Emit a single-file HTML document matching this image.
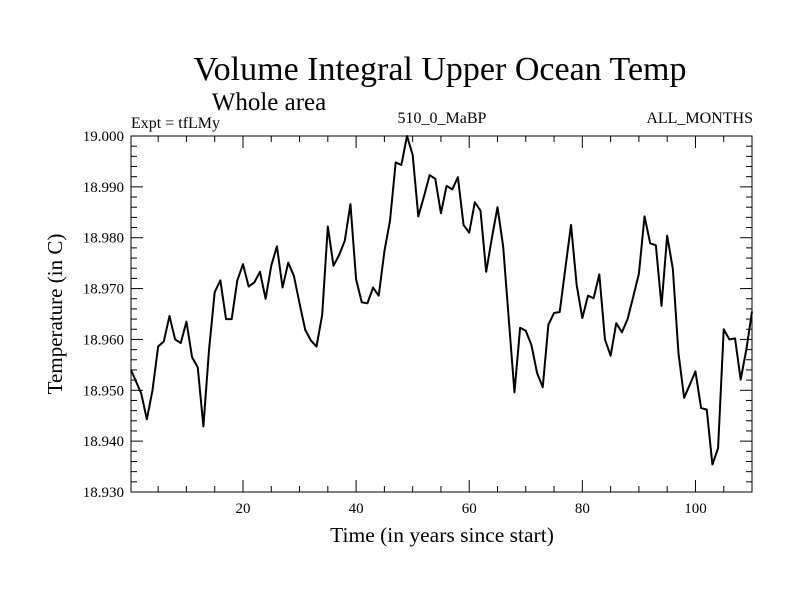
<!DOCTYPE html>
<html><head><meta charset="utf-8"><style>
body{margin:0;background:#fff;}
svg text{font-family:"Liberation Serif",serif;fill:#000;}
</style></head><body>
<svg id="chart" width="800" height="600" xmlns="http://www.w3.org/2000/svg">
<text x="440" y="80" text-anchor="middle" font-size="34">Volume Integral Upper Ocean Temp</text>
<text x="269" y="110" text-anchor="middle" font-size="25">Whole area</text>
<text x="131" y="128" font-size="16">Expt = tfLMy</text>
<text x="442" y="123" text-anchor="middle" font-size="16">510_0_MaBP</text>
<text x="753" y="123" text-anchor="end" font-size="16">ALL_MONTHS</text>
<text transform="translate(62,314) rotate(-90)" text-anchor="middle" font-size="21">Temperature (in C)</text>
<text x="442" y="542" text-anchor="middle" font-size="21.5">Time (in years since start)</text>
<g id="axes"></g>
<path id="series" fill="none" stroke="#000" stroke-width="2" stroke-linejoin="round"></path>
<rect x="131" y="136" width="621" height="356" fill="none" stroke="#000" stroke-width="1"></rect>
</svg>
<script>
const values = [18.954,18.9494,18.9443,18.950,18.9586,18.9596,18.9646,18.960,18.9593,18.9635,
18.9565,18.9545,18.9429,18.958,18.9693,18.9716,18.964,18.964,18.9716,18.9748,
18.9704,18.9712,18.9733,18.968,18.9745,18.9783,18.9702,18.9751,18.9725,18.9671,
18.9619,18.9598,18.9586,18.9648,18.9822,18.9745,18.9766,18.9794,18.9866,18.9718,
18.9673,18.9671,18.9702,18.9686,18.9773,18.9834,18.9948,18.9943,19.000,18.9963,
18.9842,18.9881,18.9923,18.9916,18.9848,18.9902,18.9895,18.9919,18.9825,18.981,
18.987,18.9853,18.9733,18.9799,18.986,18.9783,18.9639,18.9496,18.9623,18.9617,
18.9589,18.9534,18.9506,18.9629,18.9652,18.9654,18.974,18.9825,18.9707,18.9642,
18.9686,18.9681,18.9728,18.960,18.9568,18.9632,18.9614,18.964,18.9684,18.9729,
18.9842,18.9789,18.9785,18.9666,18.9804,18.9739,18.9573,18.9485,18.9511,18.9537,
18.9465,18.9462,18.9354,18.9386,18.962,18.960,18.9602,18.9521,18.958,18.9655];
const xTicks = [20,40,60,80,100];
const yTicks = [18.930,18.940,18.950,18.960,18.970,18.980,18.990,19.000];
const xMin=0.2, xMax=110, yMin=18.930, yMax=19.000;
const L=131,R=752,T=136,B=492;
function sx(v){return L+(v-xMin)/(xMax-xMin)*(R-L);}
function sy(v){return B-(v-yMin)/(yMax-yMin)*(B-T);}
const NS="http://www.w3.org/2000/svg";
const axes=document.getElementById('axes');
function line(x1,y1,x2,y2,name){const l=document.createElementNS(NS,'line');
l.setAttribute('x1',x1);l.setAttribute('y1',y1);l.setAttribute('x2',x2);l.setAttribute('y2',y2);
l.setAttribute('stroke','#000');l.setAttribute('stroke-width','1');


axes.appendChild(l);}
function text(x,y,s,anchor,name){const t=document.createElementNS(NS,'text');
t.setAttribute('x',x);t.setAttribute('y',y);t.setAttribute('text-anchor',anchor);t.setAttribute('font-size','15');t.textContent=s;


axes.appendChild(t);}
for(let v=5;v<=110;v+=5){const x=sx(v);const major=v%20===0;const len=major?12:6;
line(x,B,x,B-len,'x-tick');line(x,T,x,T+len,'x-tick-top');}
xTicks.forEach(v=>text(sx(v),513,String(v),'middle','x-tick-label'));
for(let i=0;i<=35;i++){const v=yMin+i*0.002;const y=sy(v);const major=i%5===0;const len=major?12:6;
line(L,y,L+len,y,'y-tick');line(R,y,R-len,y,'y-tick-right');}
yTicks.forEach(v=>text(124,sy(v)+5,v.toFixed(3),'end','y-tick-label'));
let d='';values.forEach((v,i)=>{const t=(i===0)?xMin:i+1;d+=(i?'L':'M')+sx(t).toFixed(2)+','+sy(v).toFixed(2);});
document.getElementById('series').setAttribute('d',d);
</script>
</body></html>
